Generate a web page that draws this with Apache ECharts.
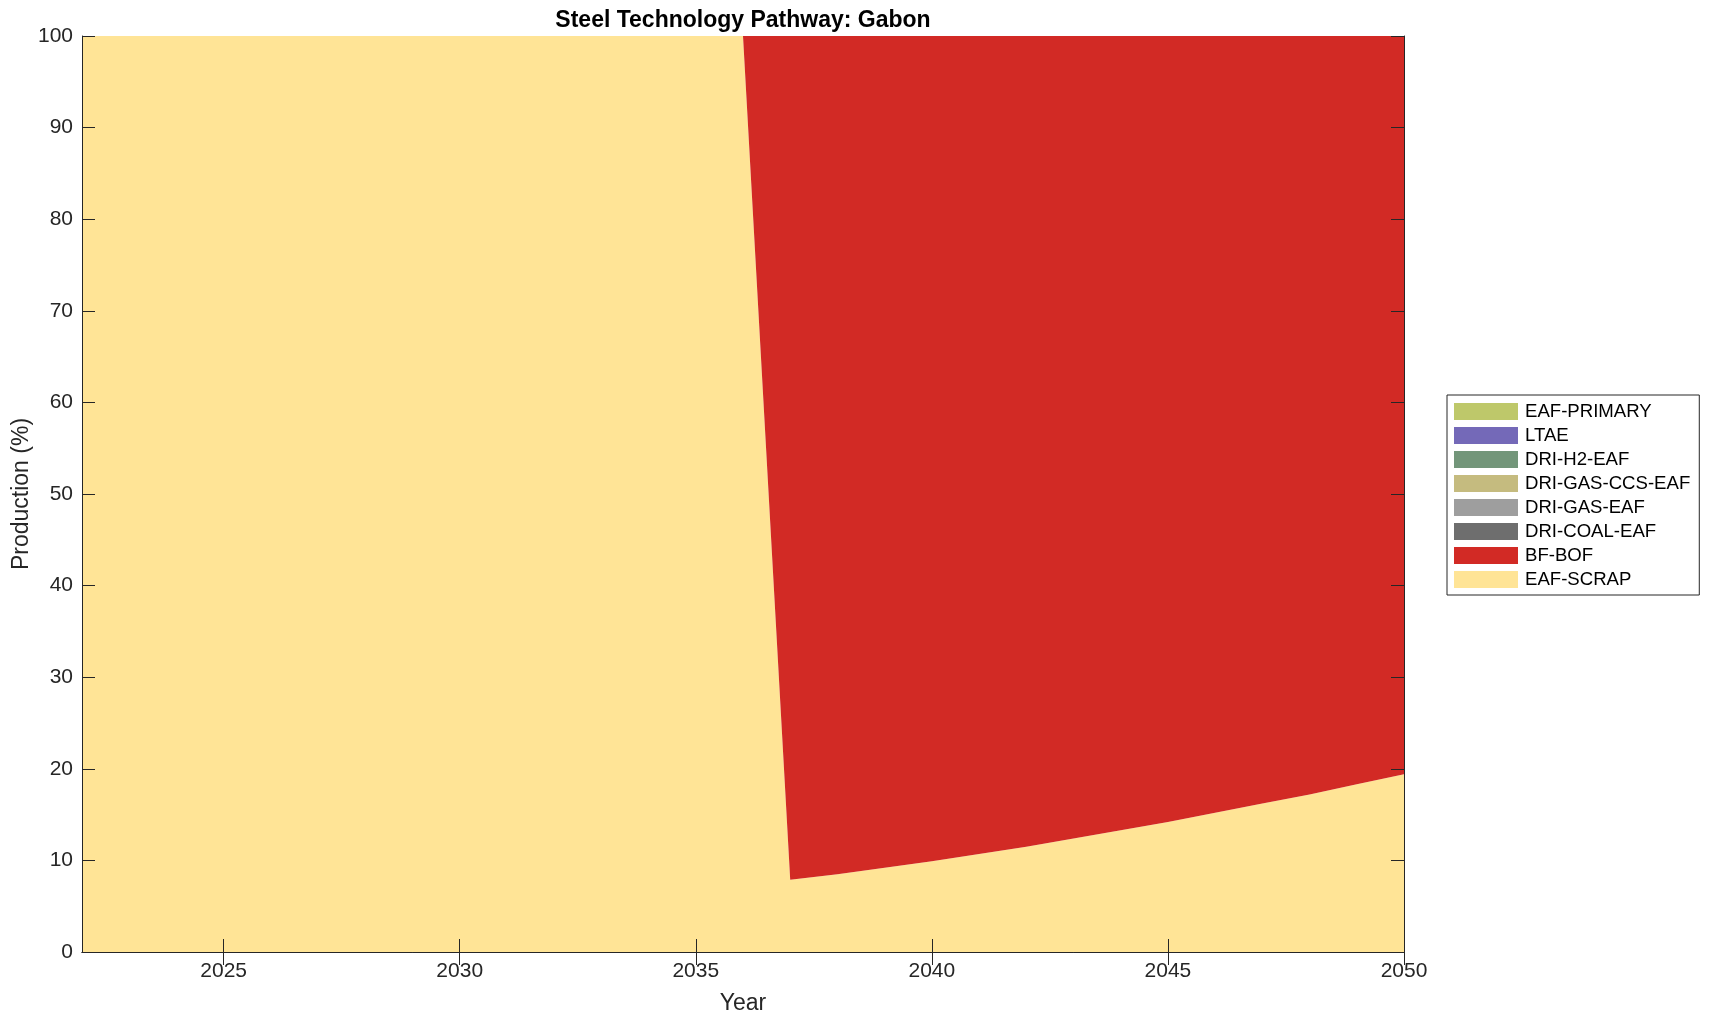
<!DOCTYPE html>
<html>
<head>
<meta charset="utf-8">
<script src="https://cdn.jsdelivr.net/npm/echarts@6/dist/echarts.min.js"></script>
<style>
html,body{margin:0;padding:0;background:#fff;}
#chart{width:1709px;height:1021px;}
</style>
</head>
<body>
<div id="chart"></div>
<script>
const years = ['2022','2023','2024','2025','2026','2027','2028','2029','2030','2031','2032','2033','2034','2035','2036','2037','2038','2039','2040','2041','2042','2043','2044','2045','2046','2047','2048','2049','2050'];
const eafScrap = [100,100,100,100,100,100,100,100,100,100,100,100,100,100,100,7.9,8.5,9.2,9.9,10.7,11.5,12.4,13.3,14.2,15.2,16.2,17.2,18.3,19.4];
const bfBof = [0,0,0,0,0,0,0,0,0,0,0,0,0,0,0,92.1,91.5,90.8,90.1,89.3,88.5,87.6,86.7,85.8,84.8,83.8,82.8,81.7,80.6];
const driCoalEaf = [0,0,0,0,0,0,0,0,0,0,0,0,0,0,0,0,0,0,0,0,0,0,0,0,0,0,0,0,0];
const driGasEaf = [0,0,0,0,0,0,0,0,0,0,0,0,0,0,0,0,0,0,0,0,0,0,0,0,0,0,0,0,0];
const driGasCcsEaf = [0,0,0,0,0,0,0,0,0,0,0,0,0,0,0,0,0,0,0,0,0,0,0,0,0,0,0,0,0];
const driH2Eaf = [0,0,0,0,0,0,0,0,0,0,0,0,0,0,0,0,0,0,0,0,0,0,0,0,0,0,0,0,0];
const ltae = [0,0,0,0,0,0,0,0,0,0,0,0,0,0,0,0,0,0,0,0,0,0,0,0,0,0,0,0,0];
const eafPrimary = [0,0,0,0,0,0,0,0,0,0,0,0,0,0,0,0,0,0,0,0,0,0,0,0,0,0,0,0,0];
const xTickLabels = ['2025','2030','2035','2040','2045','2050'];

const seriesDefs = [
  {name:'EAF-SCRAP', data:eafScrap, color:'#FFE496'},
  {name:'BF-BOF', data:bfBof, color:'#D22A25'},
  {name:'DRI-COAL-EAF', data:driCoalEaf, color:'#6E6E6E'},
  {name:'DRI-GAS-EAF', data:driGasEaf, color:'#9E9E9E'},
  {name:'DRI-GAS-CCS-EAF', data:driGasCcsEaf, color:'#C5BB7F'},
  {name:'DRI-H2-EAF', data:driH2Eaf, color:'#73967A'},
  {name:'LTAE', data:ltae, color:'#7469B8'},
  {name:'EAF-PRIMARY', data:eafPrimary, color:'#BEC86A'}
];

const FONT = "'Liberation Sans', Arial, Helvetica, sans-serif";
const TXT = '#262626';

const chart = echarts.init(document.getElementById('chart'), null, {renderer:'canvas'});
const gridL = 82, gridT = 36, gridW = 1322, gridH = 916;

const showTick = (idx, val) => xTickLabels.indexOf(String(val)) >= 0;

const lineCommon = {show:true, lineStyle:{color:TXT, width:1}};
const tickCommon = {show:true, inside:true, length:13, lineStyle:{color:TXT, width:1}};

chart.setOption({
  animation:false,
  backgroundColor:'#fff',
  title:{
    text:'Steel Technology Pathway: Gabon',
    left: gridL + gridW/2, textAlign:'center', top:9, padding:0,
    textStyle:{fontFamily:FONT, fontWeight:'bold', fontSize:23, color:'#000'}
  },
  grid:{left:gridL, top:gridT, width:gridW, height:gridH, containLabel:false, outerBoundsMode:'none'},
  legend:{
    orient:'vertical',
    left:1447, top:395,
    padding:[7,9,6,7],
    itemWidth:64, itemHeight:17, itemGap:5,
    icon:'rect',
    borderColor:'#262626', borderWidth:1,
    backgroundColor:'#fff',
    selectedMode:false,
    textStyle:{fontFamily:FONT, fontSize:18.6, color:'#000', padding:[0,0,0,2]},
    data: seriesDefs.slice().reverse().map(s=>({name:s.name, itemStyle:{color:s.color}}))
  },
  xAxis:[
    {
      type:'category', data:years, boundaryGap:false, position:'bottom', z:10,
      name:'Year', nameLocation:'middle', nameGap:40, nameMoveOverlap:false,
      nameTextStyle:{fontFamily:FONT, fontSize:23, color:TXT},
      axisLine:lineCommon,
      axisTick:Object.assign({}, tickCommon, {interval:showTick}),
      axisLabel:{show:true, interval:showTick, margin:9, fontFamily:FONT, fontSize:21, color:TXT},
      splitLine:{show:false}
    },
    {
      type:'category', data:years, boundaryGap:false, position:'top', z:10,
      axisLine:lineCommon,
      axisTick:Object.assign({}, tickCommon, {interval:showTick}),
      axisLabel:{show:false},
      splitLine:{show:false}
    }
  ],
  yAxis:[
    {
      type:'value', min:0, max:100, interval:10, position:'left', z:10,
      name:'Production (%)', nameLocation:'middle', nameGap:49, nameMoveOverlap:false,
      nameTextStyle:{fontFamily:FONT, fontSize:23, color:TXT},
      axisLine:lineCommon,
      axisTick:tickCommon,
      axisLabel:{show:true, margin:9, fontFamily:FONT, fontSize:21, color:TXT},
      splitLine:{show:false}
    },
    {
      type:'value', min:0, max:100, interval:10, position:'right', z:10,
      axisLine:lineCommon,
      axisTick:tickCommon,
      axisLabel:{show:false},
      splitLine:{show:false}
    }
  ],
  series: seriesDefs.map(s=>({
    name:s.name,
    type:'line',
    stack:'total',
    xAxisIndex:0, yAxisIndex:0,
    symbol:'none',
    showSymbol:false,
    lineStyle:{width:0, color:s.color},
    itemStyle:{color:s.color},
    areaStyle:{color:s.color, opacity:1},
    data: s.data
  }))
});
</script>
</body>
</html>
